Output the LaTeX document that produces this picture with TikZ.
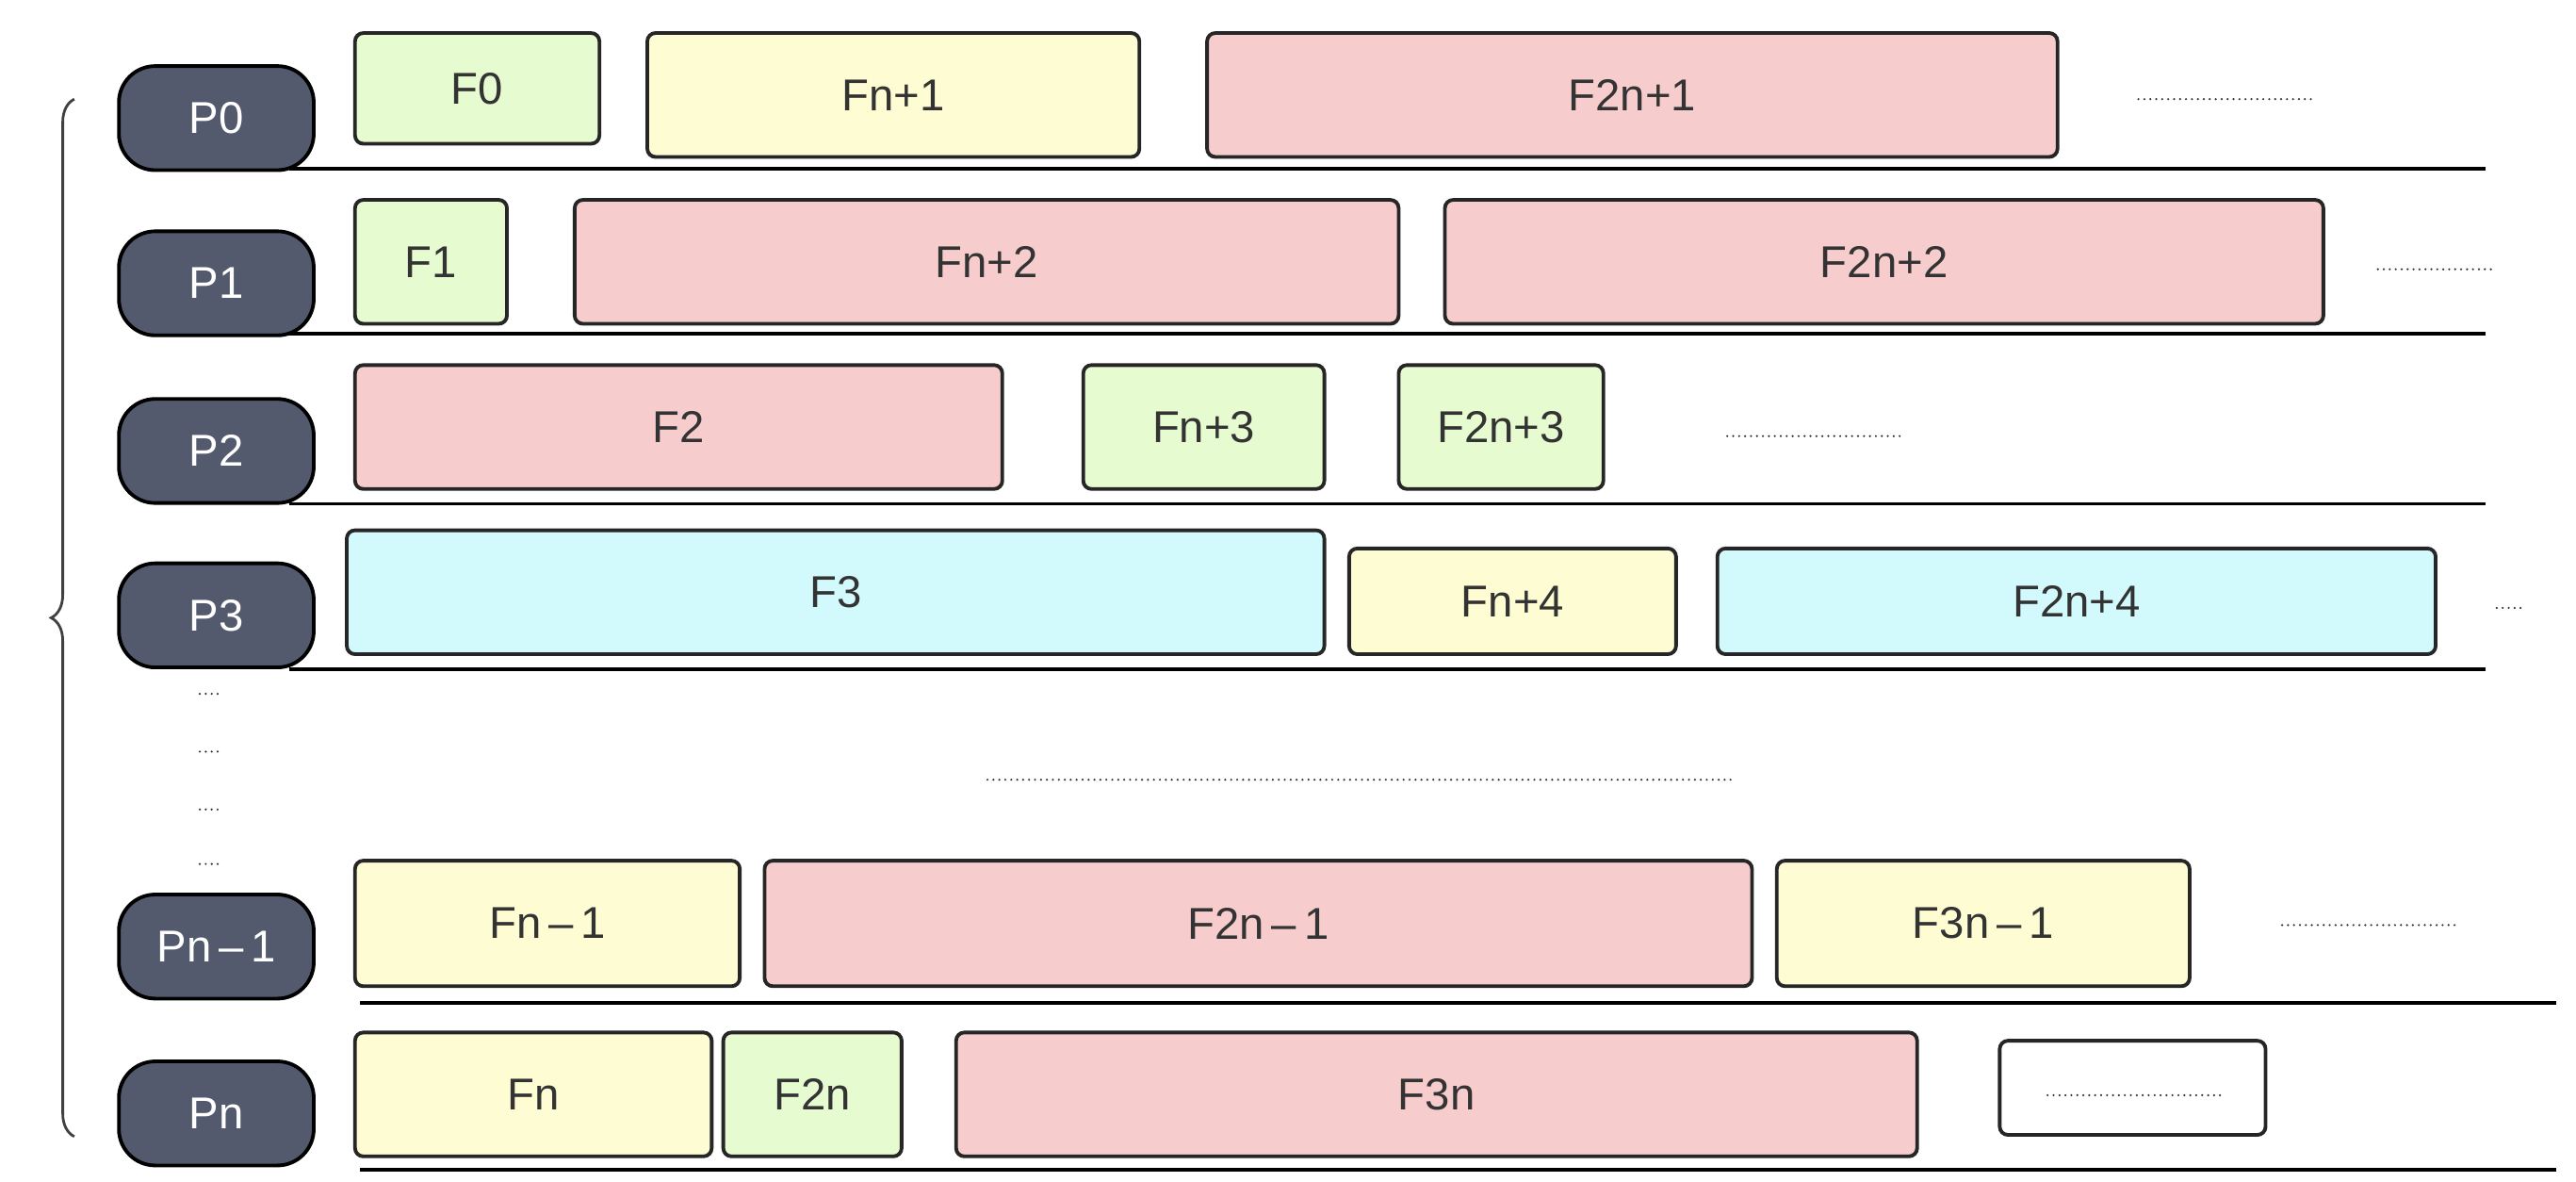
\documentclass[tikz,border=0pt]{standalone}
\usepackage{fontspec}
\setmainfont{Liberation Sans}
\usetikzlibrary{decorations.pathreplacing}
\definecolor{pc}{HTML}{545A6E}
\definecolor{cg}{HTML}{E6FBD0}
\definecolor{cy}{HTML}{FEFCD2}
\definecolor{cp}{HTML}{F6CCCC}
\definecolor{cc}{HTML}{D2FAFC}
\definecolor{tx}{HTML}{333333}
\newcommand\fbx[7]{\node[fb,fill=#6,minimum width={#4-#2},minimum height={#5-#3}] (#1) at ({(#2+#4)/2},{(#3+#5)/2}) {#7};}
\newcommand\pnd[3]{\node[pn] (#1) at (131,#2) {#3};}
\begin{document}
\begin{tikzpicture}[x=1pt,y=-1pt,
 fb/.style={draw=black!85,line width=2.2pt,rounded corners=5pt,inner sep=0pt,font=\fontsize{27}{30}\selectfont,text=tx},
 pn/.style={draw=black,fill=pc,line width=2.2pt,rounded corners=22pt,minimum width=118pt,minimum height=63pt,inner sep=0pt,font=\fontsize{27}{30}\selectfont,text=white},
 rl/.style={line width=2.2pt,black},
 dt/.style={line width=1.4pt,dash pattern=on 0pt off 3.6pt,line cap=round,black!80}]
\useasboundingbox (0,0) rectangle (1560,715);
% row lines
\coordinate (l0a) at (175,102);\coordinate (l0b) at (1505,102);\draw[rl] (l0a)--(l0b);
\coordinate (l1a) at (175,202);\coordinate (l1b) at (1505,202);\draw[rl] (l1a)--(l1b);
\coordinate (l2a) at (175,305);\coordinate (l2b) at (1505,305);\draw[rl] (l2a)--(l2b);
\coordinate (l3a) at (175,405);\coordinate (l3b) at (1505,405);\draw[rl] (l3a)--(l3b);
\coordinate (l4a) at (218,607);\coordinate (l4b) at (1548,607);\draw[rl] (l4a)--(l4b);
\coordinate (l5a) at (218,708);\coordinate (l5b) at (1548,708);\draw[rl] (l5a)--(l5b);
% P nodes
\pnd{p0}{71.5}{P0}
\pnd{p1}{171.5}{P1}
\pnd{p2}{273}{P2}
\pnd{p3}{372.5}{P3}
\pnd{pn1}{573}{Pn\,–\,1}
\pnd{pn}{674}{Pn}
% boxes
\fbx{f0}{215}{20}{363}{87}{cg}{F0}
\fbx{fn1}{392}{20}{690}{95}{cy}{Fn+1}
\fbx{f2n1}{731}{20}{1246}{95}{cp}{F2n+1}
\fbx{f1}{215}{121}{307}{196}{cg}{F1}
\fbx{fn2}{348}{121}{847}{196}{cp}{Fn+2}
\fbx{f2n2}{875}{121}{1407}{196}{cp}{F2n+2}
\fbx{f2}{215}{221}{607}{296}{cp}{F2}
\fbx{fn3}{656}{221}{802}{296}{cg}{Fn+3}
\fbx{f2n3}{847}{221}{971}{296}{cg}{F2n+3}
\fbx{f3}{210}{321}{802}{396}{cc}{F3}
\fbx{fn4}{817}{332}{1015}{396}{cy}{Fn+4}
\fbx{f2n4}{1040}{332}{1475}{396}{cc}{F2n+4}
\fbx{fnm1}{215}{521}{448}{597}{cy}{Fn\,–\,1}
\fbx{f2nm1}{463}{521}{1061}{597}{cp}{F2n\,–\,1}
\fbx{f3nm1}{1076}{521}{1326}{597}{cy}{F3n\,–\,1}
\fbx{fn}{215}{625}{431}{700}{cy}{Fn}
\fbx{f2n}{438}{625}{546}{700}{cg}{F2n}
\fbx{f3n}{579}{625}{1161}{700}{cp}{F3n}
\fbx{emp}{1211}{630}{1372}{687}{white}{}
% dots
\draw[dt] (1295,60)--(1400,60);
\draw[dt] (1440,163)--(1512,163);
\draw[dt] (1046,264)--(1152,264);
\draw[dt] (1512,368)--(1528,368);
\draw[dt] (598,472)--(1050,472);
\draw[dt] (1382,560)--(1487,560);
\draw[dt] (1240,663)--(1345,663);
\foreach \yy in {420,455,490,523}{\draw[dt] (121,\yy)--(132,\yy);}
% brace
\draw[black!75,line width=1.6pt,decorate,decoration={brace,amplitude=14pt}] (45,688)--(45,60);
\end{tikzpicture}
\end{document}
